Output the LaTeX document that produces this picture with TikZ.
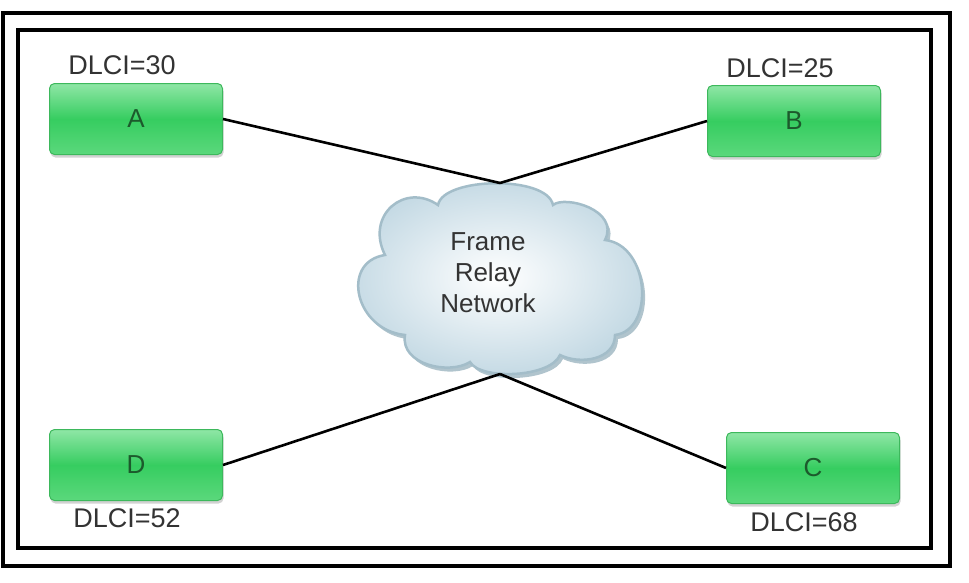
\documentclass[tikz,border=0pt]{standalone}
\usepackage{fontspec}
\setmainfont{Liberation Sans}
\usetikzlibrary{shadows}
\definecolor{boxtop}{HTML}{8FE6A6}
\definecolor{boxmid}{HTML}{36CD60}
\definecolor{boxbot}{HTML}{5BD87C}
\definecolor{boxedge}{HTML}{3DB85C}
\definecolor{boxtext}{HTML}{1C5A2C}
\definecolor{labeltext}{HTML}{333333}
\definecolor{cloudout}{HTML}{C2D8E3}
\definecolor{cloudedge}{HTML}{A3BDC9}
\definecolor{cloudshadow}{HTML}{B0C4CD}
\newcommand\cloudoutline{(438,205) .. controls (443,177) and (547,175) .. (553,205)
  .. controls (565,195) and (620,210) .. (605,240)
  .. controls (650,245) and (655,330) .. (615,335)
  .. controls (615,360) and (580,365) .. (560,355)
  .. controls (550,378) and (480,380) .. (470,362)
  .. controls (450,375) and (400,365) .. (405,335)
  .. controls (355,330) and (340,262) .. (385,255)
  .. controls (365,215) and (405,182) .. (438,205) -- cycle}
\begin{document}
\begin{tikzpicture}[x=1pt,y=-1pt,
  site/.style={rounded corners=5pt, minimum width=173pt, minimum height=71pt,
    draw=boxedge, line width=1pt, top color=boxtop, bottom color=boxbot,
    middle color=boxmid, text=boxtext, font=\fontsize{26}{30}\selectfont,
    drop shadow={shadow xshift=1pt, shadow yshift=-3pt, opacity=0.35}},
  dlci/.style={text=labeltext, font=\fontsize{27}{32}\selectfont, inner sep=0pt},
  link/.style={line width=2.6pt, black},
  borderline/.style={line width=3.5pt, black}]
\useasboundingbox (0,0) rectangle (969,582);
\fill[white] (0,0) rectangle (969,582);
% frames
\draw[borderline] (3,13) rectangle (950,566);
\draw[borderline] (18,30) rectangle (931,548);
% cloud
\fill[cloudshadow, xshift=3pt, yshift=-4pt] \cloudoutline;
\shade[inner color=white, outer color=cloudout] \cloudoutline;
\draw[cloudedge, line width=2.5pt] \cloudoutline;
\node[align=center, font=\fontsize{26}{31}\selectfont, text=labeltext] (net) at (488,273) {Frame\\Relay\\Network};
\coordinate (top) at (500,183);
\coordinate (bot) at (500,374);
% sites
\node[site] (A) at (136,119) {A};
\node[site] (B) at (794,121) {B};
\node[site] (D) at (136,465) {D};
\node[site] (C) at (813,468) {C};
% links
\draw[link] (A.east) -- (top);
\draw[link] (B.west) -- (top);
\draw[link] (D.east) -- (bot);
\draw[link] (C.west) -- (bot);
% labels
\node[dlci] (lA) at (122,65) {DLCI=30};
\node[dlci] (lB) at (780,68) {DLCI=25};
\node[dlci] (lD) at (127,518) {DLCI=52};
\node[dlci] (lC) at (804,522) {DLCI=68};
\end{tikzpicture}
\end{document}
